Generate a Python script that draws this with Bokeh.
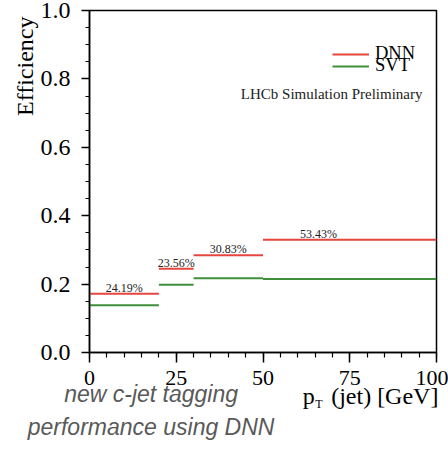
import numpy as np
from bokeh.plotting import figure
from bokeh.models import (ColumnDataSource, SingleIntervalTicker, PrintfTickFormatter,
                          Label, Legend, LegendItem, Title, LinearAxis, FixedTicker)
from bokeh.core.properties import value
from bokeh.embed import file_html
from bokeh.resources import INLINE

# ---- data ----
bin_lo = [0, 20, 30, 50]
bin_hi = [20, 30, 50, 100]
dnn_eff = [0.172, 0.245, 0.284, 0.330]
svt_eff = [0.138, 0.198, 0.217, 0.215]
improvement = ["24.19%", "23.56%", "30.83%", "53.43%"]
label_x = [10, 25, 40, 66]

x_title_main = ["p", "(jet) [GeV]"]
x_title_sub = ["T"]
caption_lines = ["new c-jet tagging", "performance using DNN"]

RED = "#e6463e"
GREEN = "#3f8f3a"
SERIF = "Liberation Serif"
SANS = "Liberation Sans"

p = figure(width=448, height=449, x_range=(0, 100), y_range=(0, 1),
           output_backend="svg", toolbar_location=None,
           min_border_left=89, min_border_right=12, min_border_top=10, min_border_bottom=97)
p.xgrid.visible = False
p.ygrid.visible = False
p.background_fill_color = "white"
p.border_fill_color = "white"
p.outline_line_color = "black"
p.outline_line_width = 1.5

dnn_src = ColumnDataSource(dict(x0=bin_lo, x1=bin_hi, y=dnn_eff))
svt_src = ColumnDataSource(dict(x0=bin_lo, x1=bin_hi, y=svt_eff))
r_dnn = p.segment(x0="x0", y0="y", x1="x1", y1="y", source=dnn_src, line_color=RED, line_width=2)
r_svt = p.segment(x0="x0", y0="y", x1="x1", y1="y", source=svt_src, line_color=GREEN, line_width=2)

txt_src = ColumnDataSource(dict(x=label_x, y=dnn_eff, t=improvement))
p.text(x="x", y="y", text="t", source=txt_src, text_align="center", text_baseline="alphabetic",
       y_offset=-6, text_font=value(SERIF), text_font_size="12px", text_color="#222222")

# axes
xa = p.xaxis[0]
ya = p.yaxis[0]
xa.ticker = SingleIntervalTicker(interval=25, num_minor_ticks=5)
ya.ticker = SingleIntervalTicker(interval=0.2, num_minor_ticks=4)
ya.formatter = PrintfTickFormatter(format="%.1f")
for ax in (xa, ya):
    ax.axis_line_width = 1.5
    ax.axis_line_color = "black"
    ax.major_tick_line_width = 1.5
    ax.minor_tick_line_width = 1.2
    ax.major_tick_in = 0
    ax.minor_tick_in = 0
    ax.major_label_text_font = SERIF
    ax.major_label_text_color = "black"
xa.major_label_text_font_size = "22px"
ya.major_label_text_font_size = "24px"
xa.major_tick_out = 10
xa.minor_tick_out = 5
ya.major_tick_out = 8
ya.minor_tick_out = 4
xa.major_label_standoff = 8
ya.major_label_standoff = 11

# legend (two single-entry legends to get tight spacing)
def make_legend(label, rend, loc):
    lg = Legend(items=[LegendItem(label=label, renderers=[rend])], location=loc,
                glyph_width=37, glyph_height=12, label_standoff=6, padding=0, margin=0,
                spacing=0, border_line_color=None, background_fill_alpha=0,
                label_text_font=SERIF, label_text_font_size="18.5px", label_text_color="black")
    p.add_layout(lg, "center")

make_legend("DNN", r_dnn, (243, 288))
make_legend("SVT", r_svt, (243, 276))

p.add_layout(Label(x=333, y=259, x_units="screen", y_units="screen", text="LHCb Simulation Preliminary",
                   text_align="right", text_baseline="middle", text_font=SERIF,
                   text_font_size="15px", text_color="#222222"))

# y axis title as a side title
p.add_layout(Title(text="Efficiency", align="right", offset=6, text_font=SERIF, text_font_size="24px",
                   text_font_style="normal", text_color="black", standoff=0), "left")

# text rows below the x axis, hosted by label-only axes
def text_row(ticks, texts, font, size, standoff, style="normal", color="black"):
    ax = LinearAxis(ticker=FixedTicker(ticks=ticks, minor_ticks=[]),
                    major_label_overrides={t: s for t, s in zip(ticks, texts)},
                    axis_line_color=None, major_tick_line_color=None, minor_tick_line_color=None,
                    major_tick_out=0, major_tick_in=0, minor_tick_out=0, minor_tick_in=0,
                    major_label_standoff=standoff, major_label_text_font=font,
                    major_label_text_font_size=size, major_label_text_font_style=style,
                    major_label_text_color=color)
    p.add_layout(ax, "below")

text_row([17.75], caption_lines[:1], SANS, "23px", -7, "italic", "#595959")
text_row([63.2, 85.1], x_title_main, SERIF, "24px", -27)
text_row([66.1], x_title_sub, SERIF, "12px", -15)
text_row([17.75], caption_lines[1:], SANS, "23px", 0, "italic", "#595959")

open("out.html", "w").write(file_html(p, INLINE))
